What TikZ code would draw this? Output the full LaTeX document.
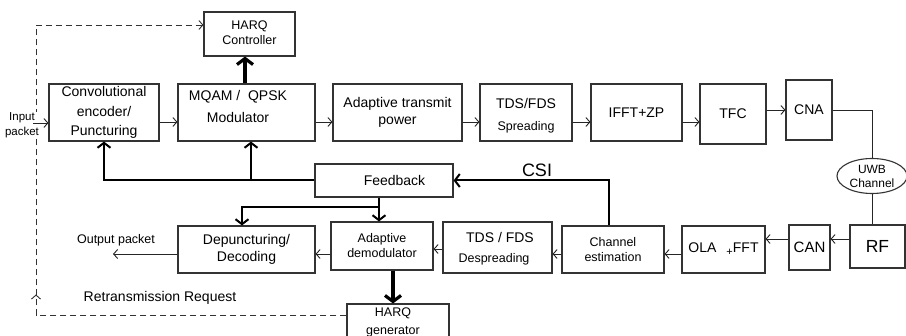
\documentclass[tikz,border=0pt]{standalone}
\usepackage{fontspec}
\setmainfont{Liberation Sans}
\usetikzlibrary{arrows.meta,shapes.geometric,decorations.markings,calc}
\begin{document}
\begin{tikzpicture}[x=1pt,y=-1pt,
  box/.style={draw=black!80, line width=1.1pt, inner sep=0pt, align=center, font=\fontsize{14}{18}\selectfont},
  fs/.style={font=\fontsize{12.5}{15}\selectfont},
  lbl/.style={inner sep=0pt, align=center},
  thinarrow/.style={draw=black!85, line width=0.9pt, -{Straight Barb[length=4pt,width=9pt]}},
  fbk/.style={line width=2pt, -{Straight Barb[length=5pt,width=13pt]}},
  heavy/.style={line width=3.2pt, -{Straight Barb[length=6pt,width=16pt]}},
  retx/.style={draw=black!80, line width=0.9pt, dash pattern=on 6pt off 4pt,
    -{Straight Barb[length=4pt,width=9pt]},
    postaction={decorate},
    decoration={markings, mark=at position 331pt with {\arrow[solid]{Straight Barb[length=4pt,width=9pt]}}}}
]
\useasboundingbox (0,0) rectangle (906,336);
\fill[white] (0,0) rectangle (906,336);

% transmitter chain
\node[box, minimum width=91pt, minimum height=44pt] (hc) at (249.5,34)
  {\raisebox{7pt}{\fontsize{12.5}{15}\selectfont\begin{tabular}{@{}c@{}}HARQ\\Controller\end{tabular}}};
\node[box, minimum width=110pt, minimum height=57pt, font=\fontsize{14}{19.5}\selectfont] (enc) at (104,112.5)
  {Convolutional\\encoder/\\Puncturing};
\node[box, minimum width=137pt, minimum height=57pt] (mod) at (246.5,112.5) {};
\node[lbl, font=\fontsize{14}{23}\selectfont] (modt) at (238,106.5) {MQAM /\ \ QPSK\\Modulator};
\node[box, minimum width=129pt, minimum height=57pt, font=\fontsize{14}{17}\selectfont] (atp) at (397.5,112.5)
  {Adaptive transmit\\power};
\node[box, minimum width=92pt, minimum height=57pt] (spr) at (526,112.5) {};
\node[lbl, font=\fontsize{14}{16}\selectfont] (sprt) at (526,104) {TDS/FDS};
\node[lbl, fs] (sprt2) at (526,127) {Spreading};
\node[box, minimum width=91pt, minimum height=57pt] (ifft) at (636.5,112.5) {IFFT+ZP};
\node[box, minimum width=66pt, minimum height=60pt] (tfc) at (733,114) {TFC};
\node[box, minimum width=46pt, minimum height=60pt] (cna) at (809,110) {CNA};
\node[ellipse, draw=black!80, line width=1.1pt, inner sep=0pt, minimum width=70pt, minimum height=35pt,
  align=center, font=\fontsize{12}{14}\selectfont] (uwb) at (872,176) {UWB\\Channel};

% receiver chain
\node[box, minimum width=55pt, minimum height=43pt, font=\fontsize{17.5}{20}\selectfont] (rf) at (877.5,246.5) {RF};
\node[box, minimum width=41pt, minimum height=45pt, font=\fontsize{15}{18}\selectfont] (can) at (809.5,247.5) {CAN};
\node[box, minimum width=83pt, minimum height=47pt] (ola) at (723.5,249.5)
  {\raisebox{3pt}{OLA\hspace{10pt}\raisebox{-3pt}{\fontsize{11}{11}\selectfont+}FFT}};
\node[box, minimum width=102pt, minimum height=47pt, fs] (ce) at (613,249.5) {Channel\\estimation};
\node[box, minimum width=109pt, minimum height=51pt] (desp) at (497.5,247.5) {};
\node[lbl, font=\fontsize{14}{16}\selectfont] (despt) at (500,237) {TDS / FDS};
\node[lbl, fs] (despt2) at (494,259) {Despreading};
\node[box, minimum width=102pt, minimum height=48pt, fs] (ademod) at (382,246) {Adaptive\\demodulator};
\node[box, minimum width=137pt, minimum height=47pt, font=\fontsize{14}{17}\selectfont] (dep) at (246.5,249.5)
  {Depuncturing/\\Decoding};
\node[box, minimum width=138pt, minimum height=33pt] (fb) at (384,180.5) {};
\node[lbl, font=\fontsize{14}{16}\selectfont] (fbt) at (394.5,181) {Feedback};
\node[box, minimum width=102pt, minimum height=46pt] (hg) at (398,327) {};
\node[lbl, font=\fontsize{12.5}{18}\selectfont] (hgt) at (393,322) {HARQ\\generator};

% free labels
\node[lbl, font=\fontsize{12.5}{15}\selectfont] (outl) at (116,240) {Output packet};
\node[lbl, font=\fontsize{14}{16}\selectfont] (rrl) at (160,298) {Retransmission Request};
\node[lbl, font=\fontsize{18}{20}\selectfont] (csil) at (537,170) {CSI};

% row coordinates
\coordinate (r1) at (0,122);
\coordinate (r2) at (0,110);
\coordinate (b1) at (0,239);
\coordinate (b2) at (0,254);
\coordinate (b3) at (0,249);
\coordinate (inp) at (33,123);
\coordinate (outp) at (113,254);
\coordinate (j1) at (251,180.5);
\coordinate (j2) at (379,207);
\coordinate (dbl) at (36,315);
\coordinate (dtl) at (36,25);

% retransmission (dashed)
\draw[retx] (hg.west |- dbl) -- (dbl) -- (dtl) -- (hc.west |- dtl);
\node[lbl, fill=white, inner sep=1pt, font=\fontsize{11.5}{15}\selectfont] (inl) at (22,125.5) {Input\\packet};

% transmitter arrows
\draw[thinarrow] (inp) -- (enc.west |- inp);
\draw[thinarrow] (enc.east |- r1) -- (mod.west |- r1);
\draw[thinarrow] (mod.east |- r1) -- (atp.west |- r1);
\draw[thinarrow] (atp.east |- r1) -- (spr.west |- r1);
\draw[thinarrow] (spr.east |- r1) -- (ifft.west |- r1);
\draw[thinarrow] (ifft.east |- r1) -- (tfc.west |- r1);
\draw[thinarrow] (tfc.east |- r2) -- (cna.west |- r2);
\draw[draw=black!85, line width=0.9pt] (cna.east |- r2) -| (uwb.north);
\draw[draw=black!85, line width=0.9pt] (uwb.south) -- (uwb.south |- rf.north);
\draw[heavy] ([xshift=-1.5pt]mod.north) -- ([xshift=-1.5pt]mod.north |- hc.south);

% receiver arrows
\draw[thinarrow] (rf.west |- b1) -- (can.east |- b1);
\draw[thinarrow] (can.west |- b1) -- (ola.east |- b1);
\draw[thinarrow] (ola.west |- b2) -- (ce.east |- b2);
\draw[thinarrow] (ce.west |- b2) -- (desp.east |- b2);
\draw[thinarrow] (desp.west |- b3) -- (ademod.east |- b3);
\draw[thinarrow] (ademod.west |- b2) -- (dep.east |- b2);
\draw[thinarrow] (dep.west |- b2) -- (outp);
\draw[heavy] ([xshift=11pt]ademod.south) -- ([xshift=11pt]ademod.south |- hg.north);

% feedback
\draw[fbk] ([xshift=-4pt]ce.north) |- (fb.east);
\draw[fbk] (fb.west) -| (enc.south);
\draw[fbk] (j1) -- (j1 |- mod.south);
\draw[fbk] (j2 |- fb.south) -- (j2 |- ademod.north);
\draw[fbk] (j2) -| ([xshift=-4.5pt]dep.north);
\end{tikzpicture}
\end{document}
